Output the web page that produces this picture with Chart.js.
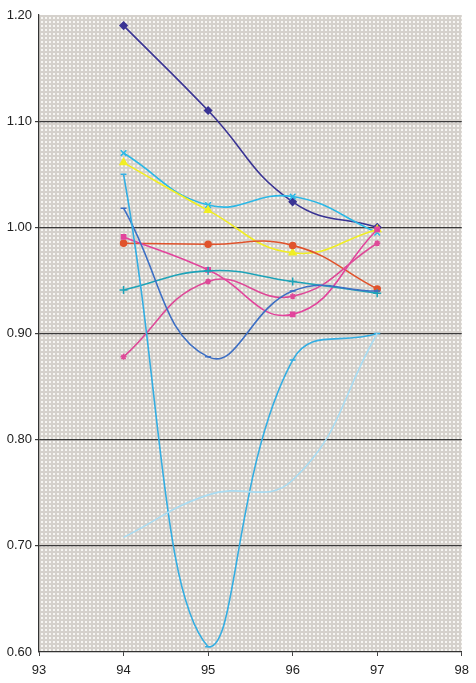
<!DOCTYPE html>
<html>
<head>
<meta charset="utf-8">
<script src="https://cdn.jsdelivr.net/npm/chart.js@4.4.1/dist/chart.umd.min.js"></script>
<style>
  html,body{margin:0;padding:0;background:#fff;}
  #wrap{width:476px;height:683px;}
</style>
</head>
<body>
<div id="wrap"><canvas id="chart" width="476" height="683"></canvas></div>
<script>
// Years on the x axis
const years = [94, 95, 96, 97];

// Series values
const navy      = [1.190, 1.110, 1.024, 1.000];
const cyanX     = [1.070, 1.021, 1.029, 0.995];
const yellow    = [1.061, 1.016, 0.976, 0.998];
const red       = [0.985, 0.984, 0.983, 0.942];
const pinkSq    = [0.991, 0.960, 0.918, 0.998];
const pinkStar  = [0.878, 0.949, 0.935, 0.985];
const teal      = [0.941, 0.959, 0.949, 0.938];
const blue      = [1.018, 0.878, 0.940, 0.940];
const skyBlue   = [1.050, 0.605, 0.875, 0.900];
const paleBlue  = [0.708, 0.748, 0.762, 0.900];

const yTicks = [0.60, 0.70, 0.80, 0.90, 1.00, 1.10, 1.20];

function pts(vals){ return vals.map((v,i)=>({x:years[i], y:v})); }

function series(vals, color, style, radius){
  return {
    data: pts(vals),
    borderColor: color,
    backgroundColor: color,
    borderWidth: 1.6,
    pointStyle: style,
    pointRadius: radius,
    pointBorderWidth: 1.5,
    tension: 0.45,
    fill: false
  };
}

// dotted grey background of the plot area
function makePattern(ctx){
  const c = document.createElement('canvas');
  c.width = 4; c.height = 4;
  const g = c.getContext('2d');
  g.fillStyle = '#d5d1cc';
  g.fillRect(0,0,4,4);
  g.fillStyle = '#f7f6f3';
  g.fillRect(1,1,2,2);
  return ctx.createPattern(c,'repeat');
}

const plotBg = {
  id:'plotBg',
  beforeDraw(chart){
    const {ctx, chartArea:a} = chart;
    ctx.save();
    ctx.fillStyle = makePattern(ctx);
    ctx.fillRect(a.left, a.top, a.right-a.left, a.bottom-a.top);
    ctx.restore();
  }
};

new Chart(document.getElementById('chart').getContext('2d'), {
  type:'line',
  data:{
    datasets:[
      series(paleBlue, '#a9dcf2', 'line', 0),
      series(skyBlue,  '#35aee2', 'line', 3),
      series(blue,     '#3d6fc4', 'line', 3),
      series(teal,     '#1ea3b8', 'cross', 4),
      series(pinkStar, '#de4a98', 'star', 3),
      series(pinkSq,   '#e2449c', 'rect', 3),
      series(red,      '#e0532c', 'circle', 3),
      series(yellow,   '#f1ee24', 'triangle', 4),
      series(cyanX,    '#2cb8e6', 'crossRot', 4),
      series(navy,     '#3a3494', 'rectRot', 3.5)
    ]
  },
  plugins:[plotBg],
  options:{
    responsive:false,
    animation:false,
    layout:{padding:{top:15, right:8, left:0, bottom:0}},
    plugins:{legend:{display:false}, tooltip:{enabled:false}},
    scales:{
      x:{
        type:'linear', min:93, max:98,
        afterFit(s){ s.height = 31; },
        ticks:{stepSize:1, color:'#222', font:{family:'Liberation Sans, Arial', size:13}, padding:7,
               callback:v=>String(v)},
        grid:{display:true, drawOnChartArea:false, drawTicks:true, tickLength:4, color:'#444'},
        border:{display:true, color:'#333', width:1.2}
      },
      y:{
        min:0.60, max:1.20,
        afterFit(s){ s.width = 39; },
        afterBuildTicks(s){ s.ticks = yTicks.map(v=>({value:v})); },
        ticks:{color:'#222', font:{family:'Liberation Sans, Arial', size:13}, padding:3,
               callback:v=>v.toFixed(2)},
        grid:{color:ctx=> (ctx.tick && (ctx.tick.value<=0.6001 || ctx.tick.value>=1.1999)) ? 'rgba(0,0,0,0)' : '#3a3a3a',
              lineWidth:1.2, drawTicks:true, tickLength:4},
        border:{display:true, color:'#333', width:1.2}
      }
    }
  }
});
</script>
</body>
</html>
